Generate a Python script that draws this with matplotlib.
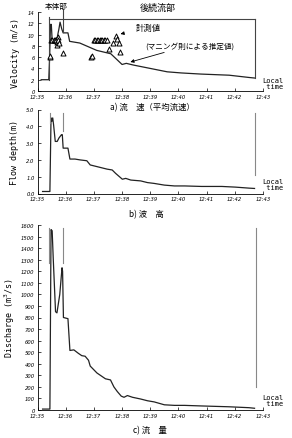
import matplotlib.pyplot as plt
import numpy as np

# minutes after 12:35
t_vel = [0.13, 0.40, 0.43, 0.46, 0.49, 0.52, 0.56, 0.62, 0.70, 0.76, 0.80, 0.86, 0.91, 1.08, 1.14,
         1.50, 2.10, 2.60, 3.00, 3.15, 3.40, 4.00, 4.60, 5.10, 5.80, 6.80, 7.50, 7.70]
velocity = [2.0, 2.0, 6.0, 11.8, 11.8, 9.0, 9.0, 9.2, 9.5, 11.0, 12.2, 11.0, 10.3, 10.3, 8.8,
            8.5, 7.2, 6.6, 4.7, 4.9, 4.6, 4.0, 3.4, 3.2, 3.0, 2.8, 2.4, 2.3]

t_obs = [0.44, 0.46, 0.49, 0.53, 0.57, 0.61, 0.65, 0.68, 0.70, 0.72, 0.74, 0.76, 0.91,
         1.90, 1.93, 2.00, 2.05, 2.10, 2.15, 2.20, 2.25, 2.30, 2.35, 2.40, 2.47,
         2.55, 2.67, 2.77, 2.83, 2.89, 2.91]
v_obs = [6.0, 6.2, 9.0, 9.0, 9.0, 9.0, 9.0, 8.6, 8.2, 9.5, 9.0, 8.5, 6.8,
         6.0, 6.2, 9.0, 9.0, 9.0, 9.0, 9.0, 9.0, 9.0, 9.0, 9.0, 9.0,
         7.5, 8.5, 9.7, 9.3, 8.5, 6.9]

t_dep = [0.18, 0.44, 0.48, 0.51, 0.54, 0.57, 0.63, 0.70, 0.76, 0.85, 0.88, 0.91, 1.08, 1.15,
         1.33, 1.51, 1.75, 1.87, 2.11, 2.47, 2.65, 2.77, 3.01, 3.13, 3.31, 3.66, 3.90,
         4.14, 4.50, 4.86, 5.22, 5.82, 6.54, 7.02, 7.50, 7.70]
depth = [0.12, 0.12, 4.5, 4.3, 4.5, 4.1, 3.1, 3.1, 3.3, 3.5, 3.5, 2.7, 2.7, 2.05,
         2.05, 2.0, 1.95, 1.7, 1.6, 1.45, 1.4, 1.2, 0.85, 0.9, 0.8, 0.75, 0.65,
         0.6, 0.5, 0.45, 0.45, 0.42, 0.42, 0.38, 0.32, 0.3]

t_dis = [0.18, 0.44, 0.48, 0.52, 0.56, 0.64, 0.69, 0.79, 0.87, 0.89, 0.92, 1.08, 1.15,
         1.29, 1.45, 1.57, 1.69, 1.81, 1.87, 1.99, 2.11, 2.23, 2.41, 2.59, 2.71, 2.83,
         2.97, 3.07, 3.19, 3.37, 3.66, 3.90, 4.14, 4.50, 4.86, 5.22, 5.82, 6.78, 7.50, 7.70]
discharge = [8, 8, 1560, 1550, 1300, 850, 840, 1000, 1230, 1200, 800, 790, 515,
             520, 490, 470, 465, 430, 380, 350, 320, 300, 270, 260, 200, 160,
             120, 110, 125, 110, 95, 80, 70, 45, 40, 40, 35, 28, 20, 15]

xticklabels = ['12:35', '12:36', '12:37', '12:38', '12:39', '12:40', '12:41', '12:42', '12:43']

jp = ['Noto Sans CJK JP', 'DejaVu Sans']
mono = 'DejaVu Sans Mono'

fig = plt.figure(figsize=(2.92, 4.39), dpi=100)
L, W = 37.5 / 292, 225.5 / 292
ax1 = fig.add_axes([L, 1 - 92 / 439, W, 79 / 439])
ax2 = fig.add_axes([L, 1 - 194.5 / 439, W, 84 / 439])
ax3 = fig.add_axes([L, 1 - 411 / 439, W, 185 / 439])


def style(ax):
    ax.spines['top'].set_visible(False)
    ax.spines['right'].set_visible(False)
    ax.spines['left'].set_linewidth(0.6)
    ax.spines['bottom'].set_linewidth(0.6)
    ax.set_xlim(0, 8)
    ax.set_xticks(range(9))
    ax.set_xticklabels(xticklabels, fontsize=3.8, style='italic')
    ax.tick_params(direction='in', length=2, width=0.5, pad=2)
    for lab in ax.get_yticklabels():
        lab.set_fontsize(3.8)
        lab.set_style('italic')


# a) velocity
ax1.plot(t_vel, velocity, color='#222222', lw=0.9)
ax1.scatter(t_obs, v_obs, marker='^', s=13, facecolors='white', edgecolors='black', linewidths=0.7, zorder=3)
ax1.set_ylim(0, 14)
ax1.set_yticks(range(0, 15, 2))
style(ax1)
ax1.set_ylabel('Velocity (m/s)', family=mono, fontsize=6, labelpad=6)
ax1.plot([0.41, 7.7], [12.8, 12.8], color='#444444', lw=0.8)
ax1.plot([0.41, 0.41], [13.2, 2.0], color='#444444', lw=0.8)
ax1.plot([0.91, 0.91], [14.6, 10.4], color='#444444', lw=0.8, clip_on=False)
ax1.plot([7.7, 7.7], [12.8, 2.3], color='#444444', lw=0.8)
ax1.text(0.66, 15.1, '本体部', family=jp, fontsize=5.5, style='italic', ha='center', va='center')
ax1.text(4.27, 14.9, '後続流部', family=jp, fontsize=6.5, style='italic', ha='center', va='center')
ax1.annotate('計測値', xy=(2.85, 10.0), xytext=(3.92, 11.2), family=jp, fontsize=6, ha='center', va='center',
             arrowprops=dict(arrowstyle='-|>', color='black', lw=0.6, mutation_scale=5, shrinkA=8))
ax1.annotate('(マニング則による推定値)', xy=(3.2, 5.0), xytext=(3.81, 8.1), family=jp, fontsize=5.5,
             ha='left', va='center',
             arrowprops=dict(arrowstyle='-|>', color='black', lw=0.6, mutation_scale=5, shrinkA=1))

# b) flow depth
ax2.plot(t_dep, depth, color='#222222', lw=0.9)
ax2.set_ylim(0, 5)
ax2.set_yticks(np.arange(0, 5.1, 1.0))
ax2.set_yticklabels(['%.1f' % v for v in np.arange(0, 5.1, 1.0)])
style(ax2)
ax2.set_ylabel('Flow depth(m)', family=mono, fontsize=6, labelpad=5)
ax2.plot([0.43, 0.43], [4.8, 4.2], color='#888888', lw=0.8)
ax2.plot([0.91, 0.91], [4.8, 3.7], color='#888888', lw=0.8)
ax2.plot([7.7, 7.7], [4.8, 1.1], color='#888888', lw=0.8)

# c) discharge
ax3.plot(t_dis, discharge, color='#222222', lw=0.9)
ax3.set_ylim(0, 1600)
ax3.set_yticks(range(0, 1601, 100))
style(ax3)
ax3.set_ylabel('Discharge (m$^3$/s)', family=mono, fontsize=6, labelpad=3)
ax3.plot([0.41, 0.41], [1570, 1270], color='#888888', lw=0.8)
ax3.plot([0.91, 0.91], [1570, 1270], color='#888888', lw=0.8)
ax3.plot([7.75, 7.75], [1570, 200], color='#888888', lw=0.8)

for ypx in (84, 185, 401):
    fig.text(262 / 292, 1 - ypx / 439, 'Local\n time', family=mono, fontsize=5, ha='left', va='center',
             linespacing=1.0)

fig.text(152 / 292, 1 - 108 / 439, 'a) 流　速（平均流速）', family=jp, fontsize=6, ha='center', va='center')
fig.text(146 / 292, 1 - 215 / 439, 'b) 波　高', family=jp, fontsize=6, ha='center', va='center')
fig.text(150 / 292, 1 - 431 / 439, 'c) 流　量', family=jp, fontsize=6, ha='center', va='center')

fig.savefig('out.png', dpi=100)
